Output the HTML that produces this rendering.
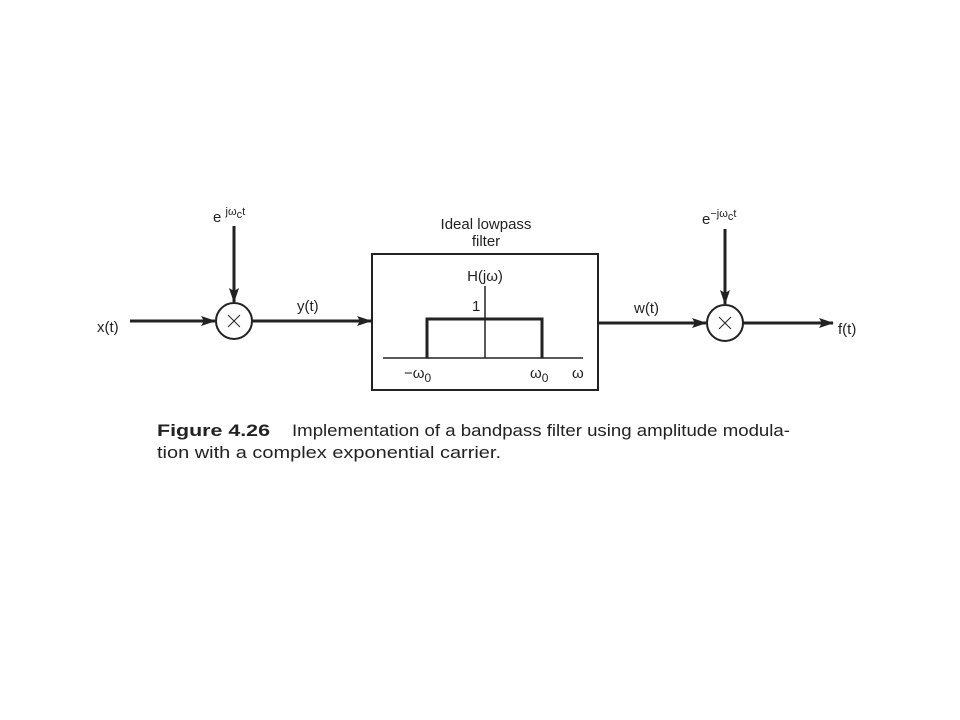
<!DOCTYPE html>
<html><head><meta charset="utf-8"><style>body{margin:0;background:#fff}svg{display:block}</style></head><body>
<svg width="960" height="720" viewBox="0 0 960 720" xmlns="http://www.w3.org/2000/svg" font-family="Liberation Sans, DejaVu Sans, sans-serif" fill="#222">
<defs><marker id="a" markerWidth="15" markerHeight="10" refX="14" refY="5" orient="auto" markerUnits="userSpaceOnUse"><path d="M0,0 L15,5 L0,10 L3,5 Z" fill="#222"/></marker></defs>
<g stroke="#222" fill="none">
<line x1="130" y1="321" x2="215" y2="321" stroke-width="3" marker-end="url(#a)"/>
<line x1="234" y1="226" x2="234" y2="302" stroke-width="3" marker-end="url(#a)"/>
<circle cx="234" cy="321" r="18" stroke-width="2"/>
<line x1="252" y1="321" x2="371" y2="321" stroke-width="3" marker-end="url(#a)"/>
<rect x="372" y="254" width="226" height="136" stroke-width="2"/>
<line x1="383" y1="358" x2="583" y2="358" stroke-width="1.5"/>
<line x1="485" y1="286" x2="485" y2="358" stroke-width="1.5"/>
<polyline points="427,358 427,319 542,319 542,358" stroke-width="3"/>
<line x1="598" y1="323" x2="706" y2="323" stroke-width="3" marker-end="url(#a)"/>
<line x1="725" y1="229" x2="725" y2="304" stroke-width="3" marker-end="url(#a)"/>
<circle cx="725" cy="323" r="18" stroke-width="2"/>
<line x1="743" y1="323" x2="833" y2="323" stroke-width="3" marker-end="url(#a)"/>
<path d="M228,315 L240,327 M240,315 L228,327 M719,317 L731,329 M731,317 L719,329" stroke-width="1"/>
</g>
<g font-size="15">
<text x="97" y="332">x(t)</text>
<text x="297" y="311">y(t)</text>
<text x="634" y="313">w(t)</text>
<text x="838" y="334">f(t)</text>
<text x="213" y="222">e <tspan font-size="11" dy="-7">jω</tspan><tspan font-size="11" dy="3">c</tspan><tspan font-size="11" dy="-3">t</tspan></text>
<text x="702" y="224">e<tspan font-size="11" dy="-7">−jω</tspan><tspan font-size="11" dy="3">c</tspan><tspan font-size="11" dy="-3">t</tspan></text>
<text x="486" y="229" text-anchor="middle">Ideal lowpass</text>
<text x="486" y="246" text-anchor="middle">filter</text>
<text x="485" y="281" text-anchor="middle">H(jω)</text>
<text x="472" y="311">1</text>
<text x="404" y="378">−ω<tspan font-size="12" dy="4">0</tspan></text>
<text x="530" y="378">ω<tspan font-size="12" dy="4">0</tspan></text>
<text x="572" y="378">ω</text>
</g>
<text x="157" y="436" font-size="17" font-weight="bold" textLength="113" lengthAdjust="spacingAndGlyphs">Figure 4.26</text>
<text x="292" y="436" font-size="17" textLength="498" lengthAdjust="spacingAndGlyphs">Implementation of a bandpass filter using amplitude modula-</text>
<text x="157" y="458" font-size="17" textLength="344" lengthAdjust="spacingAndGlyphs">tion with a complex exponential carrier.</text>
</svg>
</body></html>
